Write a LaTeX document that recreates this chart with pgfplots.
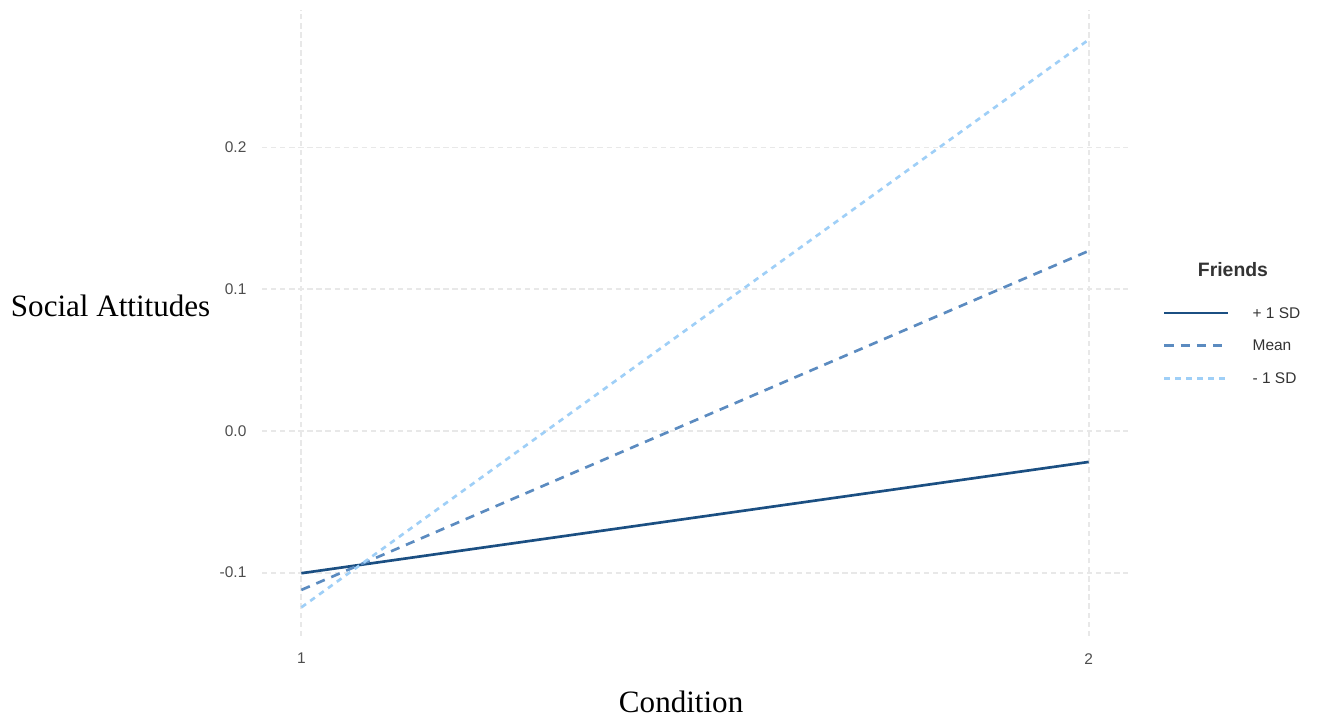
\documentclass[border=0pt]{standalone}
\usepackage{fontspec}
\setmainfont{Liberation Sans}
\newfontfamily\serifT{Liberation Serif}
\usepackage{pgfplots}
\pgfplotsset{compat=1.18}
\definecolor{darkB}{HTML}{1B4F82}
\definecolor{midB}{HTML}{5B8BC0}
\definecolor{lightB}{HTML}{9FCFF7}
\definecolor{gridG}{HTML}{E8E8E8}
\definecolor{tickG}{HTML}{4D4D4D}
\begin{document}
\begin{tikzpicture}
\useasboundingbox (-196.5pt,-66pt) rectangle (792pt,477pt);
\begin{axis}[
  at={(0,0)}, anchor=south west,
  scale only axis,
  clip=false,
  width=649.5pt, height=469.5pt,
  xmin=0.95, xmax=2.05,
  ymin=-0.1447, ymax=0.297,
  xtick={1,2}, xticklabels={1,2},
  ytick={-0.1,0,0.1,0.2}, yticklabels={-0.1,0.0,0.1,0.2},
  axis line style={draw=none},
  tick style={draw=none},
  grid=major,
  major grid style={dash pattern=on 4pt off 2.8pt, color=gridG, line width=1.3pt},
  ticklabel style={font=\fontsize{11.6}{13}\selectfont, text=tickG},
  yticklabel style={inner sep=0pt, anchor=east, xshift=-11.5pt},
  xticklabel style={inner sep=0pt, anchor=north, yshift=-12.75pt},
  every axis y label/.style={at={(rel axis cs:0,0.5096)}, anchor=base east, xshift=-35.25pt, font=\serifT\fontsize{23.3}{26}\selectfont},
  every axis x label/.style={at={(rel axis cs:0.484,0)}, anchor=base, yshift=-57.75pt, font=\serifT\fontsize{23.3}{26}\selectfont},
  xlabel={Condition},
  ylabel={Social Attitudes},
  legend style={at={(1.0404,0.5243)}, anchor=north west, draw=none, fill=none,
    inner sep=0pt, outer sep=0pt, row sep=16.4pt, column sep=17.25pt,
    nodes={inner sep=0pt, anchor=base west, text height=8pt, text depth=0pt, font=\fontsize{11.6}{13}\selectfont, text=black!80}},
  legend image code/.code={\draw[#1] (0pt,4pt) -- (48pt,4pt);},
]
\addplot[darkB, line width=2pt, line cap=butt] coordinates {(1,-0.1004) (2,-0.0219)};
\addlegendentry{+ 1 SD}
\addplot[midB, line width=2pt, line cap=butt, dash pattern=on 6.9pt off 5.3pt] coordinates {(1,-0.1122) (2,0.1270)};
\addlegendentry{Mean}
\addplot[lightB, line width=2pt, line cap=butt, dash pattern=on 4.3pt off 3.9pt] coordinates {(1,-0.1245) (2,0.2760)};
\addlegendentry{- 1 SD}
\node[anchor=base, font=\bfseries\fontsize{14.55}{16}\selectfont, text=black!80] at (rel axis cs:1.1212,0.5735) {Friends};
\end{axis}
\end{tikzpicture}
\end{document}
